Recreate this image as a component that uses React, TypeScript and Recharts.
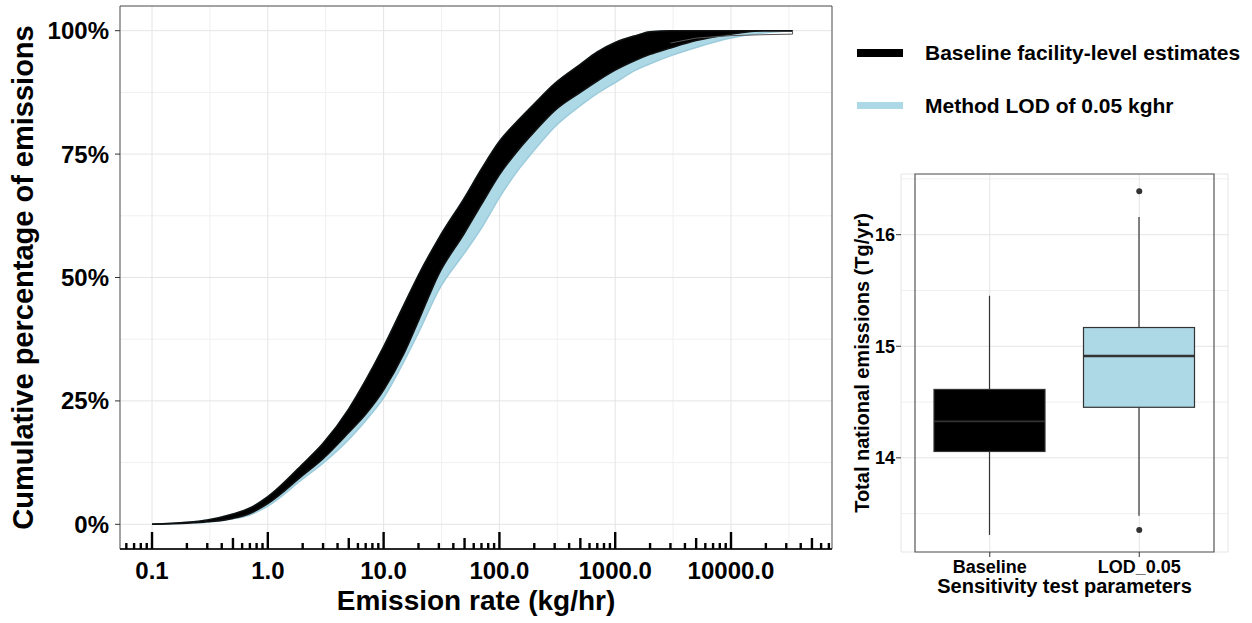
import React from 'react';
import {
  ComposedChart,
  Area,
  Line,
  Bar,
  Scatter,
  XAxis,
  YAxis,
  CartesianGrid,
  ReferenceLine,
  ReferenceArea,
  Label,
} from 'recharts';

const FONT = '"Liberation Sans", Arial, Helvetica, sans-serif';

// emission rate grid (kg/hr) the cumulative curves are read at
const rates = [
  0.1, 0.2, 0.3, 0.5, 0.7, 1, 2, 3, 5, 7, 10, 15, 20, 30, 50, 70, 100, 150, 200, 300,
  500, 700, 1000, 1500, 2000, 3000, 5000, 10000, 20000, 34000,
];
// upper / lower envelope of the baseline runs (cumulative share of emissions)
const baselineUpper = [
  0, 0.004, 0.009, 0.021, 0.033, 0.056, 0.122, 0.164, 0.234, 0.292, 0.36, 0.445, 0.505, 0.58,
  0.662, 0.72, 0.776, 0.822, 0.852, 0.893, 0.932, 0.957, 0.976, 0.99, 0.998, 1, 1, 1, 1, 1,
];
const baselineLower = [
  0, 0.002, 0.005, 0.012, 0.022, 0.042, 0.099, 0.133, 0.186, 0.223, 0.272, 0.346, 0.412, 0.507,
  0.59, 0.648, 0.708, 0.762, 0.795, 0.838, 0.875, 0.898, 0.92, 0.94, 0.952, 0.965, 0.98, 0.993, 1, 1,
];
// lower envelope of the LOD 0.05 kg/hr runs
const lodLower = [
  0, 0.002, 0.004, 0.011, 0.019, 0.037, 0.092, 0.124, 0.172, 0.21, 0.256, 0.33, 0.388, 0.475,
  0.55, 0.6, 0.662, 0.722, 0.758, 0.805, 0.848, 0.873, 0.895, 0.92, 0.933, 0.949, 0.966, 0.985,
  0.996, 1,
];
// one run with a long tail up to the largest source
const tailRates = [3000, 5000, 10000, 20000, 34000, 34000];
const tailShares = [0.975, 0.985, 0.99, 0.992, 0.993, 1];

const xTicks = [0.1, 1, 10, 100, 1000, 10000];
const xMinor = [0.3162, 3.162, 31.62, 316.2, 3162, 31623];
const yTicks = [0, 0.25, 0.5, 0.75, 1];
const yMinor = [0.125, 0.375, 0.625, 0.875];
const logDecades = [0.01, 0.1, 1, 10, 100, 1000, 10000];
const logSteps = [1, 2, 3, 4, 5, 6, 7, 8, 9];

// box plot of national totals (Tg/yr)
const groups = ['Baseline', 'LOD_0.05'];
const q1 = [14.057, 14.453];
const median = [14.327, 14.913];
const q3 = [14.613, 15.168];
const whiskerLow = [13.309, 13.48];
const whiskerHigh = [15.453, 16.159];
const outlierGroup = ['LOD_0.05', 'LOD_0.05'];
const outlierValue = [16.39, 13.354];
const boxTicks = [14, 15, 16];
const boxMinor = [13.5, 14.5, 15.5, 16.5];

const X_DOMAIN = [0.0529, 74500];
const Y_DOMAIN = [-0.05, 1.05];
const BOX_DOMAIN = [13.156, 16.544];
const BOX_FILLS = ['#000000', '#add8e6'];
const GRID = '#e5e5e5';
const GRID_MINOR = '#f0f0f0';

const cdfRows = rates.map((r, i) => ({
  rate: r,
  baseline: [baselineLower[i], baselineUpper[i]],
  lod: [lodLower[i], baselineUpper[i]],
}));
const tailRows = tailRates.map((r, i) => ({ rate: r, share: tailShares[i] }));

const logTicks = logDecades
  .flatMap((d) => logSteps.map((s) => ({ v: +(d * s).toPrecision(6), step: s })))
  .filter((t) => t.v > X_DOMAIN[0] && t.v < X_DOMAIN[1]);

const boxRows = groups.map((g, i) => ({
  group: g,
  box: [q1[i], q3[i]],
  q1: q1[i],
  q3: q3[i],
  median: median[i],
  lo: whiskerLow[i],
  hi: whiskerHigh[i],
}));
const outlierRows = outlierGroup.map((g, i) => ({ group: g, value: outlierValue[i] }));

const tickFont = (size: number) => ({
  fill: '#000',
  fontSize: size,
  fontWeight: 700,
  fontFamily: FONT,
});

const BoxShape = (props: any) => {
  const { x, y, width, height, payload, index } = props;
  const top = Math.min(y, y + height);
  const h = Math.abs(height);
  const unit = h / (payload.q3 - payload.q1);
  const cx = x + width / 2;
  const medY = top + (payload.q3 - payload.median) * unit;
  const hiY = top - (payload.hi - payload.q3) * unit;
  const loY = top + h + (payload.q1 - payload.lo) * unit;
  return (
    <g>
      <line x1={cx} x2={cx} y1={hiY} y2={top} stroke="#333" strokeWidth={1.2} />
      <line x1={cx} x2={cx} y1={top + h} y2={loY} stroke="#333" strokeWidth={1.2} />
      <rect x={x} y={top} width={width} height={h} fill={BOX_FILLS[index]} stroke="#333" strokeWidth={1.2} />
      <line x1={x} x2={x + width} y1={medY} y2={medY} stroke="#333" strokeWidth={index === 0 ? 1.6 : 2.4} />
    </g>
  );
};

const tickLength = (step: number) => (step === 1 ? 17 : step === 5 ? 11 : 6);

function CdfChart() {
  return (
    <ComposedChart
      width={840}
      height={623}
      data={cdfRows}
      margin={{ top: 6, right: 8, left: 0, bottom: 0 }}
    >
      <CartesianGrid stroke={GRID_MINOR} strokeWidth={1} verticalValues={xMinor} horizontalValues={yMinor} />
      <CartesianGrid stroke={GRID} strokeWidth={1} />
      <XAxis
        dataKey="rate"
        type="number"
        scale="log"
        domain={X_DOMAIN}
        allowDataOverflow
        ticks={xTicks}
        interval={0}
        tickFormatter={(v: number) => v.toFixed(1)}
        height={74}
        axisLine={{ stroke: '#000', strokeWidth: 1.5 }}
        tickLine={false}
        tickSize={6}
        tickMargin={7}
        tick={tickFont(24)}
      >
        <Label
          value="Emission rate (kg/hr)"
          position="insideBottom"
          offset={13}
          fill="#000"
          fontSize={28}
          fontWeight={700}
          fontFamily={FONT}
        />
      </XAxis>
      <YAxis
        type="number"
        domain={Y_DOMAIN}
        allowDataOverflow
        ticks={yTicks}
        interval={0}
        tickFormatter={(v: number) => `${Math.round(v * 100)}%`}
        width={120}
        axisLine={false}
        tickLine={{ stroke: '#333' }}
        tickSize={5}
        tickMargin={6}
        tick={tickFont(24)}
      >
        <Label
          value="Cumulative percentage of emissions"
          angle={-90}
          position="insideLeft"
          offset={23}
          style={{ textAnchor: 'middle' }}
          fill="#000"
          fontSize={29}
          fontWeight={700}
          fontFamily={FONT}
        />
      </YAxis>
      <Area
        dataKey="lod"
        type="monotone"
        fill="#add8e6"
        fillOpacity={1}
        stroke="#9ccbdb"
        strokeWidth={1.5}
        dot={false}
        activeDot={false}
        isAnimationActive={false}
      />
      <Area
        dataKey="baseline"
        type="monotone"
        fill="#000"
        fillOpacity={1}
        stroke="#111"
        strokeWidth={1.5}
        dot={false}
        activeDot={false}
        isAnimationActive={false}
      />
      <Line
        data={tailRows}
        dataKey="share"
        type="linear"
        stroke="#555"
        strokeWidth={1}
        dot={false}
        activeDot={false}
        isAnimationActive={false}
      />
      {logTicks.map((t) => (
        <ReferenceLine
          key={`lt${t.v}`}
          x={t.v}
          ifOverflow="visible"
          shape={(p: any) => {
            const yb = Math.max(p.y1, p.y2);
            return (
              <line x1={p.x1} x2={p.x1} y1={yb} y2={yb - tickLength(t.step)} stroke="#000" strokeWidth={2.4} />
            );
          }}
        />
      ))}
      <ReferenceArea
        x1={X_DOMAIN[0]}
        x2={X_DOMAIN[1]}
        y1={Y_DOMAIN[0]}
        y2={Y_DOMAIN[1]}
        fill="none"
        fillOpacity={0}
        stroke="#555"
        strokeWidth={1}
        ifOverflow="visible"
      />
    </ComposedChart>
  );
}

function BoxChart() {
  return (
    <ComposedChart
      width={422}
      height={623}
      data={boxRows}
      margin={{ top: 174, right: 24, left: 0, bottom: 0 }}
    >
      <CartesianGrid stroke={GRID_MINOR} strokeWidth={1} vertical={false} horizontalValues={boxMinor} />
      <CartesianGrid stroke={GRID} strokeWidth={1} />
      <XAxis
        dataKey="group"
        type="category"
        allowDuplicatedCategory={false}
        padding={{ left: 14, right: 14 }}
        height={71}
        axisLine={false}
        tickLine={{ stroke: '#333' }}
        tickSize={5}
        tickMargin={3}
        interval={0}
        tick={tickFont(18)}
      >
        <Label
          value="Sensitivity test parameters"
          position="insideBottom"
          offset={30}
          fill="#000"
          fontSize={20}
          fontWeight={700}
          fontFamily={FONT}
        />
      </XAxis>
      <YAxis
        type="number"
        domain={BOX_DOMAIN}
        allowDataOverflow
        ticks={boxTicks}
        interval={0}
        width={71}
        axisLine={false}
        tickLine={{ stroke: '#333' }}
        tickSize={5}
        tickMargin={1}
        tick={tickFont(18)}
      >
        <Label
          value="Total national emissions (Tg/yr)"
          angle={-90}
          position="insideLeft"
          offset={32}
          style={{ textAnchor: 'middle' }}
          fill="#000"
          fontSize={20}
          fontWeight={700}
          fontFamily={FONT}
        />
      </YAxis>
      <Bar dataKey="box" barSize={111} shape={BoxShape} isAnimationActive={false} />
      <Scatter
        data={outlierRows}
        dataKey="value"
        isAnimationActive={false}
        shape={(p: any) => <circle cx={p.cx} cy={p.cy} r={3} fill="#333" />}
      />
      <ReferenceArea
        y1={BOX_DOMAIN[0]}
        y2={BOX_DOMAIN[1]}
        fill="none"
        fillOpacity={0}
        stroke="#555"
        strokeWidth={1.2}
        ifOverflow="visible"
      />
    </ComposedChart>
  );
}

const legendText: React.CSSProperties = {
  position: 'absolute',
  left: 925,
  fontSize: 21,
  lineHeight: '24px',
  fontWeight: 700,
  fontFamily: FONT,
  color: '#000',
  whiteSpace: 'nowrap',
};

export default function App() {
  return (
    <div
      style={{
        position: 'absolute',
        left: 0,
        top: 0,
        width: 1252,
        height: 623,
        background: '#fff',
        overflow: 'hidden',
      }}
    >
      <div style={{ position: 'absolute', left: 0, top: 0 }}>
        <CdfChart />
      </div>
      <div style={{ position: 'absolute', left: 830, top: 0 }}>
        <BoxChart />
      </div>
      <div style={{ position: 'absolute', left: 857, top: 49, width: 46, height: 8, background: '#000' }} />
      <div style={{ ...legendText, top: 41 }}>Baseline facility-level estimates</div>
      <div style={{ position: 'absolute', left: 857, top: 102, width: 46, height: 7, background: '#add8e6' }} />
      <div style={{ ...legendText, top: 94 }}>Method LOD of 0.05 kghr</div>
    </div>
  );
}
